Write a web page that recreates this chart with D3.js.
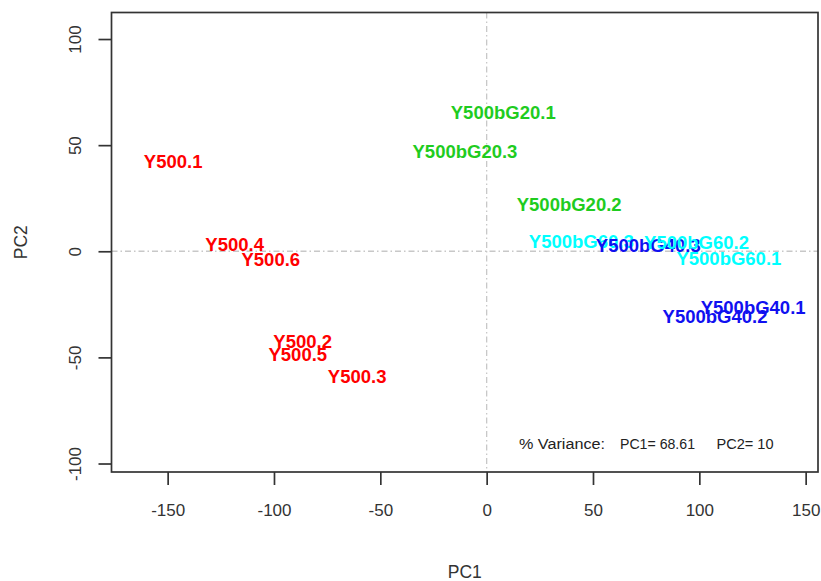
<!DOCTYPE html>
<html><head><meta charset="utf-8">
<script src="https://cdn.jsdelivr.net/npm/d3@7"></script>
<style>body{margin:0;background:#fff}svg{display:block}</style>
</head><body>
<svg id="c" width="821" height="581"></svg>
<script>
const labels = ["Y500.1","Y500.4","Y500.6","Y500.2","Y500.5","Y500.3",
  "Y500bG20.1","Y500bG20.3","Y500bG20.2",
  "Y500bG60.3","Y500bG40.3","Y500bG60.2","Y500bG60.1","Y500bG40.1","Y500bG40.2"];
const pc1 = [-147.4,-118.5,-101.5,-86.5,-88.8,-60.9, 7.8,-10.2,38.8, 44.5,76.0,98.7,113.9,125.3,107.4];
const pc2 = [42.4,3.2,-3.8,-42.7,-48.5,-59.1, 65.3,47.1,22.1, 4.7,2.5,4.1,-3.4,-26.7,-30.9];
const groups = ["Y500","Y500","Y500","Y500","Y500","Y500","G20","G20","G20","G60","G40","G60","G60","G40","G40"];
const groupNames = ["Y500","G20","G40","G60"];
const groupColors = ["#ff0000","#1fcc1f","#1010f0","#00ffff"];
const xTicks = [-150,-100,-50,0,50,100,150];
const yTicks = [-100,-50,0,50,100];
const varianceParts = ["% Variance:","PC1= 68.61","PC2= 10"];

const FONT = "Liberation Sans, Arial, sans-serif";
const svg = d3.select("#c");
const L=111.5, R=818, T=12.5, B=472;
const x = d3.scaleLinear().domain([-176.4,155.8]).range([L,R]);
const y = d3.scaleLinear().domain([-104,112.5]).range([B,T]);
const color = d3.scaleOrdinal().domain(groupNames).range(groupColors);
const axisCol="#333";

// reference lines
svg.append("line").attr("x1",x(0)).attr("x2",x(0)).attr("y1",T).attr("y2",B)
  .attr("stroke","#c8c8c8").attr("stroke-width",1.3).attr("stroke-dasharray","6,3,1.5,3");
svg.append("line").attr("x1",L).attr("x2",R).attr("y1",y(0)).attr("y2",y(0))
  .attr("stroke","#c8c8c8").attr("stroke-width",1.3).attr("stroke-dasharray","6,3,1.5,3");

// axes
const xa = svg.append("g").attr("transform",`translate(0,${B})`)
  .call(d3.axisBottom(x).tickValues(xTicks).tickSize(13).tickPadding(19).tickFormat(d=>String(d)));
const ya = svg.append("g").attr("transform",`translate(${L},0)`)
  .call(d3.axisLeft(y).tickValues(yTicks).tickSize(13).tickPadding(18).tickFormat(d=>String(d)));
[xa,ya].forEach(a=>{
  a.select(".domain").remove();
  a.selectAll(".tick line").attr("stroke",axisCol).attr("stroke-width",1.7);
  a.selectAll(".tick text").attr("fill","#333").style("font-family",FONT).style("font-size","17px");
});
ya.selectAll(".tick text").each(function(){
  d3.select(this).attr("text-anchor","middle").attr("x",0).attr("dy","0.35em")
   .attr("transform",`translate(${-36},0) rotate(-90)`);
});

// box
svg.append("rect").attr("x",L).attr("y",T).attr("width",R-L).attr("height",B-T)
  .attr("fill","none").attr("stroke",axisCol).attr("stroke-width",1.7);

// titles (centered on the plot region)
svg.append("text").attr("x",(L+R)/2).attr("y",578).attr("text-anchor","middle")
  .attr("fill","#333").style("font-family",FONT).style("font-size","17.5px").text("PC1");
svg.append("text").attr("transform",`translate(21,${(T+B)/2}) rotate(-90)`).attr("dy","0.35em").attr("text-anchor","middle")
  .attr("fill","#333").style("font-family",FONT).style("font-size","17.5px").text("PC2");

// labels
svg.append("g").selectAll("text").data(labels).join("text")
  .attr("x",(d,i)=>x(pc1[i])).attr("y",(d,i)=>y(pc2[i])).attr("dy","0.35em")
  .attr("text-anchor","middle").attr("fill",(d,i)=>color(groups[i]))
  .style("font-family",FONT).style("font-weight","bold").style("font-size","18.5px")
  .text(d=>d);

// variance annotation
const vx = [519, 620, 716.5], vw = [86, 75, 57];
svg.append("g").selectAll("text").data(varianceParts).join("text")
  .attr("x",(d,i)=>vx[i]).attr("y",444).attr("dy","0.35em")
  .attr("textLength",(d,i)=>vw[i]).attr("lengthAdjust","spacingAndGlyphs")
  .attr("fill","#222").style("font-family",FONT).style("font-size","14px").text(d=>d);
</script>
</body></html>
